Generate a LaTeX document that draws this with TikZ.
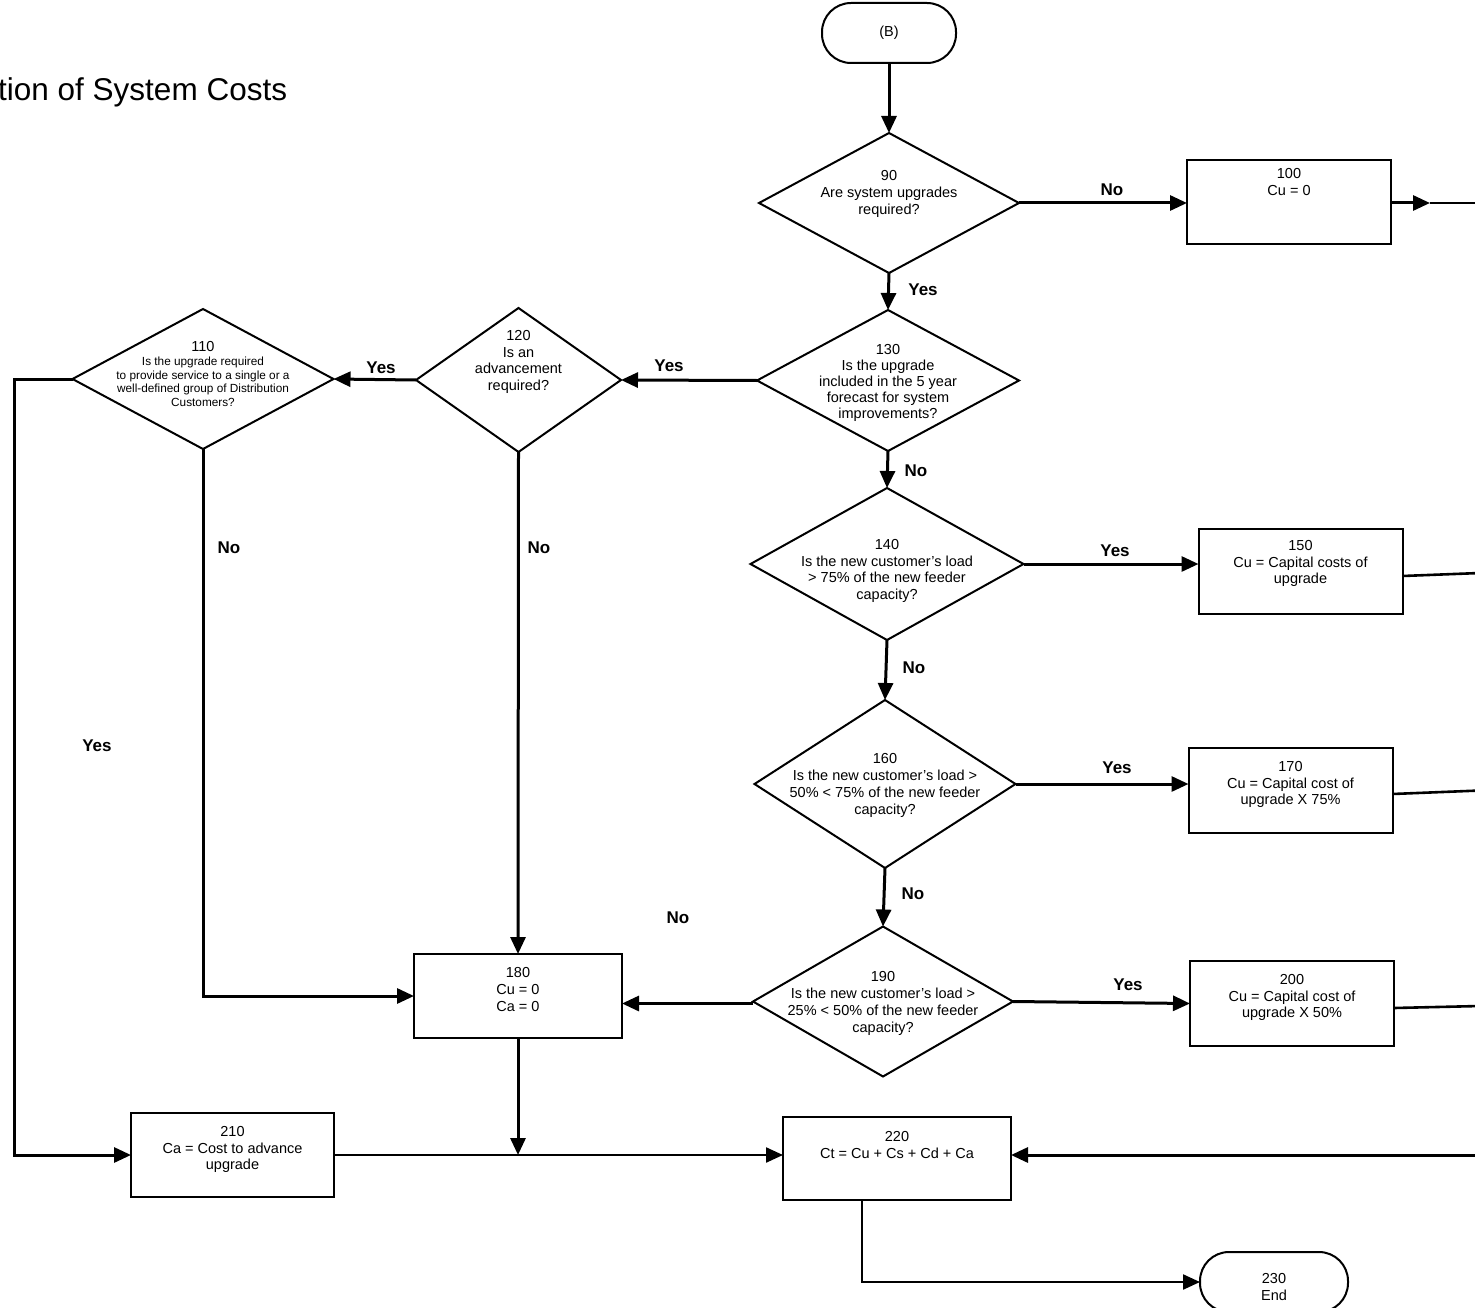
\documentclass[tikz,border=0pt]{standalone}
\usepackage{fontspec}
\setmainfont{Liberation Sans}
\usetikzlibrary{arrows.meta,shapes.geometric}
\begin{document}
\begin{tikzpicture}[x=1pt,y=-1pt,
  shp/.style={draw, line width=2pt, inner sep=0pt, outer sep=0pt},
  dia/.style={shp, diamond},
  box/.style={shp, rectangle},
  term/.style={shp, rectangle, rounded corners=29pt},
  txt/.style={align=center, inner sep=0pt, font=\fontsize{14.5}{16.7}\selectfont},
  smalltxt/.style={align=center, inner sep=0pt, font=\fontsize{11.8}{13.5}\selectfont},
  lbl/.style={inner sep=0pt, font=\fontsize{17}{20}\selectfont\bfseries},
  conn/.style={line width=3pt, -{Triangle[length=17pt,width=15pt]}},
  thinconn/.style={line width=2.3pt, -{Triangle[length=17pt,width=15pt]}},
  plainline/.style={line width=2.6pt},
]
\useasboundingbox (0,0) rectangle (1475,1308);
\clip (0,0) rectangle (1475,1308);

% title
\node[anchor=west, inner sep=0pt, font=\fontsize{31.5}{38}\selectfont] (title) at (-2,92) {tion of System Costs};

% shapes
\node[term, minimum width=134pt, minimum height=60pt] (B) at (889,33) {};
\node[txt] (tB) at (889,33) {(B)};

\node[dia, minimum width=260pt, minimum height=140pt] (d90) at (889,203) {};
\node[txt, font=\fontsize{14.5}{17}\selectfont] (t90) at (889,194) {90\\Are system upgrades\\required?};

\node[box, minimum width=204pt, minimum height=84pt] (b100) at (1289,202) {};
\node[txt] (t100) at (1289,182) {100\\Cu = 0};

\node[dia, minimum width=262pt, minimum height=141pt] (d130) at (888,380.5) {};
\node[txt, font=\fontsize{14.5}{15.8}\selectfont] (t130) at (888,383) {130\\Is the upgrade\\included in the 5 year\\forecast for system\\improvements?};

\node[dia, minimum width=205pt, minimum height=144pt] (d120) at (518.5,380) {};
\node[txt, font=\fontsize{14.5}{16.4}\selectfont] (t120) at (518.5,362) {120\\Is an\\advancement\\required?};

\node[dia, minimum width=261pt, minimum height=140pt] (d110) at (203,379) {};
\node[txt] (t110a) at (203,347) {110};
\node[smalltxt] (t110b) at (203,382) {Is the upgrade required\\to provide service to a single or a\\well-defined group of Distribution\\Customers?};

\node[dia, minimum width=273pt, minimum height=152pt] (d140) at (887,564) {};
\node[txt] (t140) at (887,571) {140\\Is the new customer’s load\\> 75\% of the new feeder\\capacity?};

\node[box, minimum width=204pt, minimum height=85pt] (b150) at (1300.5,571) {};
\node[txt] (t150) at (1300.5,563.5) {150\\Cu = Capital costs of\\upgrade};

\node[dia, minimum width=261pt, minimum height=168pt] (d160) at (885,784) {};
\node[txt, font=\fontsize{14.5}{17}\selectfont] (t160) at (885,785) {160\\Is the new customer’s load >\\50\% < 75\% of the new feeder\\capacity?};

\node[box, minimum width=204pt, minimum height=85pt] (b170) at (1290.5,790.5) {};
\node[txt] (t170) at (1290.5,784.5) {170\\Cu = Capital cost of\\upgrade X 75\%};

\node[dia, minimum width=260pt, minimum height=150pt] (d190) at (883,1001.5) {};
\node[txt, font=\fontsize{14.5}{17}\selectfont] (t190) at (883,1003.5) {190\\Is the new customer’s load >\\25\% < 50\% of the new feeder\\capacity?};

\node[box, minimum width=204pt, minimum height=85pt] (b200) at (1292,1003.5) {};
\node[txt] (t200) at (1292,997.5) {200\\Cu = Capital cost of\\upgrade X 50\%};

\node[box, minimum width=208pt, minimum height=84pt] (b180) at (518,996) {};
\node[txt] (t180) at (518,989.5) {180\\Cu = 0\\Ca = 0};

\node[box, minimum width=203pt, minimum height=84pt] (b210) at (232.5,1155) {};
\node[txt] (t210) at (232.5,1149.5) {210\\Ca = Cost to advance\\upgrade};

\node[box, minimum width=228pt, minimum height=83pt] (b220) at (897,1158.5) {};
\node[txt] (t220) at (897,1145) {220\\Ct = Cu + Cs + Cd + Ca};

\node[term, minimum width=148pt, minimum height=60pt] (e230) at (1274,1282) {};
\node[txt] (t230) at (1274,1287) {230\\End};

% helper coordinates
\coordinate (m100) at (1430,203);
\coordinate (R100) at (1480,203);
\coordinate (R150) at (1480,573);
\coordinate (R170) at (1480,790.5);
\coordinate (R200) at (1480,1006);
\coordinate (R220) at (1480,1155);
\coordinate (L110) at (14,379);

% connectors
\draw[conn] (B.south) -- (d90.north);
\draw[conn] (d90.east) -- (d90.east -| b100.west);
\draw[conn] (b100.east |- m100) -- (m100);
\draw[plainline] (m100) -- (R100);
\draw[conn] (d90.south) -- (d130.north);
\draw[conn] (d130.west) -- (d120.east);
\draw[conn] (d120.west) -- (d110.east);
\draw[conn] (d110.west) -- (L110) |- (b210.west);
\draw[conn] (d110.south) |- (b180.west);
\draw[conn] (d120.south) -- (b180.north);
\draw[conn] (d130.south) -- (d140.north);
\draw[conn] (d140.east) -- (d140.east -| b150.west);
\draw[plainline] ([yshift=-5pt]b150.east) -- (R150);
\draw[conn] (d140.south) -- (d160.north);
\draw[conn] (d160.east) -- (d160.east -| b170.west);
\draw[plainline] ([yshift=-3.5pt]b170.east) -- (R170);
\draw[conn] (d160.south) -- (d190.north);
\draw[conn] ([yshift=-2pt]d190.west) -- ([yshift=-2pt]d190.west -| b180.east);
\draw[conn] (d190.east) -- ([yshift=-2pt]d190.east -| b200.west);
\draw[plainline] ([yshift=-4.5pt]b200.east) -- (R200);
\draw[conn] (b180.south) -- (b180.south |- b210.east);
\draw[thinconn] (b210.east) -- (b210.east -| b220.west);
\draw[conn] (R220) -- (R220 -| b220.east);
\draw[thinconn] ([xshift=-35pt]b220.south) |- (e230.west);

% labels
\node[lbl] (l1) at (1112,190) {No};
\node[lbl] (l2) at (923,290) {Yes};
\node[lbl] (l3) at (669,366) {Yes};
\node[lbl] (l4) at (381,368) {Yes};
\node[lbl] (l5) at (916,471) {No};
\node[lbl] (l6) at (229,548) {No};
\node[lbl] (l7) at (539,548) {No};
\node[lbl] (l8) at (1115,551) {Yes};
\node[lbl] (l9) at (914,668) {No};
\node[lbl] (l10) at (97,746) {Yes};
\node[lbl] (l11) at (1117,768) {Yes};
\node[lbl] (l12) at (913,894) {No};
\node[lbl] (l13) at (678,918) {No};
\node[lbl] (l14) at (1128,985) {Yes};
\end{tikzpicture}
\end{document}
